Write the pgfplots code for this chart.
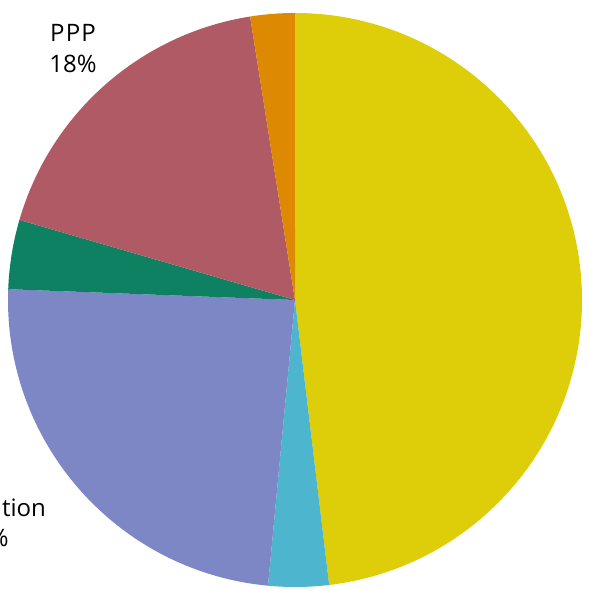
\documentclass[border=0pt]{standalone}
\usepackage{pgfplots}
\pgfplotsset{compat=1.18}
\usepackage{fontspec}
\setmainfont{Open Sans}
\definecolor{ycol}{HTML}{DECE0A}
\definecolor{ccol}{HTML}{4DB6CE}
\definecolor{pcol}{HTML}{7E87C5}
\definecolor{gcol}{HTML}{0E8162}
\definecolor{rcol}{HTML}{B05A65}
\definecolor{ocol}{HTML}{DE8902}
% slice: start percent, end percent, colour (pie starts at top, runs clockwise)
\newcommand{\slice}[3]{%
  \fill[#3] (axis cs:0,0) -- (axis cs:{287*cos(90-3.6*#1)},{287*sin(90-3.6*#1)})
    arc[start angle={90-3.6*#1}, end angle={90-3.6*#2}, radius=8.61cm] -- cycle;}
\begin{document}
\begin{tikzpicture}
\useasboundingbox (0,0) rectangle (17.7cm,17.7cm);
\clip (0,0) rectangle (17.7cm,17.7cm);
\begin{axis}[
  at={(0,0)}, anchor=south west,
  scale only axis, width=17.7cm, height=17.7cm,
  xmin=-295, xmax=295, ymin=-290, ymax=300,
  hide axis, clip=false]
% values (percent): 48.1, 3.4, 24.1, 3.9, 18.0, 2.5
\slice{0}{48.1}{ycol}
\slice{48.1}{51.5}{ccol}
\slice{51.5}{75.6}{pcol}
\slice{75.6}{79.5}{gcol}
\slice{79.5}{97.5}{rcol}
\slice{97.5}{100}{ocol}
\node[anchor=base, font=\fontsize{20.5}{25}\selectfont] at (axis cs:-222,258) {P\kern1pt P\kern1pt P};
\node[anchor=base, font=\fontsize{20.5}{25}\selectfont] at (axis cs:-222,227) {18\%};
\node[anchor=base, font=\fontsize{20.5}{25}\selectfont] at (axis cs:-310,-217) {Population};
\node[anchor=base, font=\fontsize{20.5}{25}\selectfont] at (axis cs:-310,-247) {24\%};
\end{axis}
\end{tikzpicture}
\end{document}
